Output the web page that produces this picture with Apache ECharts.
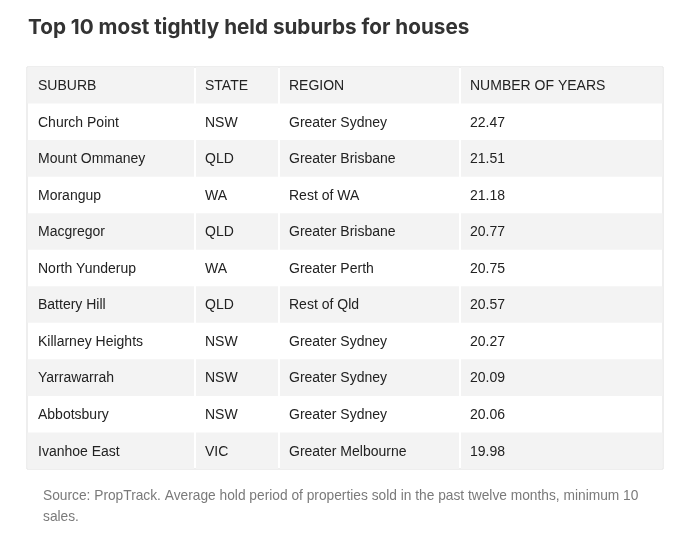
<!DOCTYPE html>
<html>
<head>
<meta charset="utf-8">
<script src="https://cdn.jsdelivr.net/npm/echarts@6/dist/echarts.min.js"></script>
<style>html,body{margin:0;padding:0;background:#fff}#c{width:675px;height:534px}</style>
</head>
<body>
<div id="c"></div>
<script>
const headers = ['SUBURB', 'STATE', 'REGION', 'NUMBER OF YEARS'];
const suburbs = ['Church Point', 'Mount Ommaney', 'Morangup', 'Macgregor', 'North Yunderup', 'Battery Hill', 'Killarney Heights', 'Yarrawarrah', 'Abbotsbury', 'Ivanhoe East'];
const states = ['NSW', 'QLD', 'WA', 'QLD', 'WA', 'QLD', 'NSW', 'NSW', 'NSW', 'VIC'];
const regions = ['Greater Sydney', 'Greater Brisbane', 'Rest of WA', 'Greater Brisbane', 'Greater Perth', 'Rest of Qld', 'Greater Sydney', 'Greater Sydney', 'Greater Sydney', 'Greater Melbourne'];
const years = [22.47, 21.51, 21.18, 20.77, 20.75, 20.57, 20.27, 20.09, 20.06, 19.98];

// layout: column edges in axis units
const COL_EDGES = [0, 168, 252, 433, 636];

const rowsText = [headers].concat(suburbs.map((s, i) => [s, states[i], regions[i], years[i].toFixed(2)]));
const rowLabels = rowsText.map((r, i) => 'r' + i);

const chart = echarts.init(document.getElementById('c'));
chart.setOption({
  backgroundColor: '#ffffff',
  animation: false,
  title: [{
    text: 'Top 10 most tightly held suburbs for houses',
    left: 28, top: 17, padding: 0,
    textStyle: { fontFamily: 'Inter', fontWeight: 'bold', fontSize: 20.7, color: '#333333' }
  }, {
    text: 'Source: PropTrack. Average hold period of properties sold in the past twelve months, minimum 10\nsales.',
    left: 43, top: 486, padding: 0,
    textStyle: { fontFamily: 'Liberation Sans', fontWeight: 'normal', fontSize: 13.75, color: '#7a7a7a', lineHeight: 21 }
  }],
  grid: { left: 27, right: 12, top: 67, bottom: 65, show: true, borderColor: '#dddddd', borderWidth: 1, backgroundColor: '#ffffff' },
  xAxis: { type: 'value', min: 0, max: 636, show: false },
  yAxis: { type: 'category', data: rowLabels, inverse: true, show: false },
  series: [{
    type: 'custom',
    data: rowsText.map((r, i) => [0, i]),
    encode: { x: 0, y: 1 },
    renderItem: function (params, api) {
      const r = api.value(1);
      const center = api.coord([0, r]);
      const bandH = api.size([0, 1])[1];
      const top = center[1] - bandH / 2;
      const gray = (r % 2 === 0);
      const children = [];
      for (let c = 0; c < 4; c++) {
        const x0 = api.coord([COL_EDGES[c], r])[0];
        const x1 = api.coord([COL_EDGES[c + 1], r])[0];
        const l = c === 0 ? x0 + 0.5 : x0 + 1;
        const rt = c === 3 ? x1 - 0.5 : x1 - 1;
        if (gray) {
          children.push({ type: 'rect', shape: { x: l, y: top, width: rt - l, height: bandH }, style: { fill: '#f3f3f3' } });
        }
        children.push({
          type: 'text',
          style: {
            text: String(rowsText[r][c]),
            x: x0 + (c === 0 ? 11 : 10), y: center[1] + 1,
            align: 'left', verticalAlign: 'middle',
            fontFamily: 'Liberation Sans', fontSize: 14, fill: '#222222'
          }
        });
      }
      return { type: 'group', children: children };
    }
  }]
});
</script>
</body>
</html>
